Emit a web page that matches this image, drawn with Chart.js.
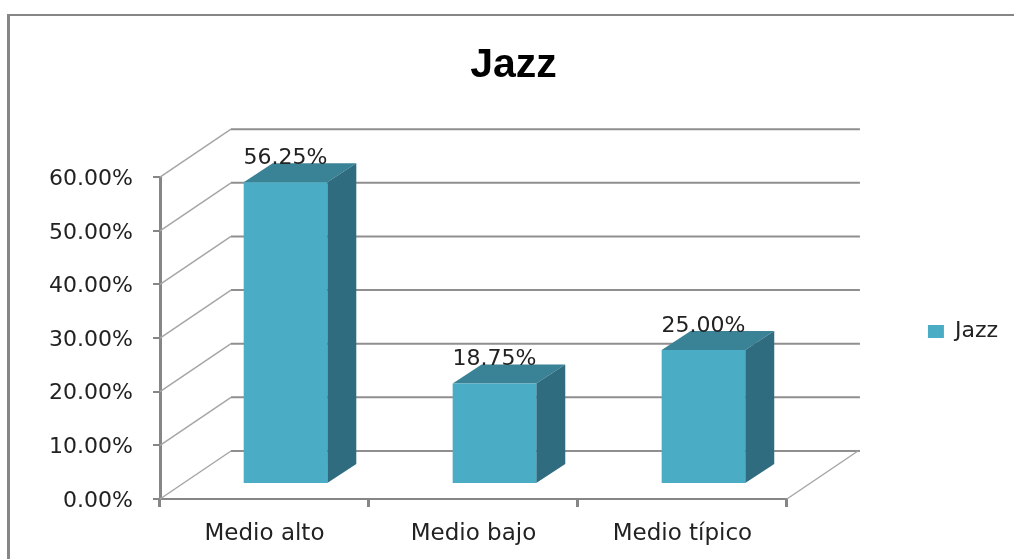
<!DOCTYPE html>
<html><head><meta charset="utf-8">
<style>html,body{margin:0;padding:0;background:#fff;overflow:hidden}canvas{display:block}</style>
<script src="https://cdn.jsdelivr.net/npm/chart.js@4"></script>
</head><body><canvas id="c" width="1014" height="559"></canvas>
<script>
const categories = ['Medio alto', 'Medio bajo', 'Medio típico'];
const seriesName = 'Jazz';
const values = [56.25, 18.75, 25.00];
const yMax = 60;
const yStep = 10;

const FONT = '"DejaVu Sans"';
const TEXT = '#222';
const AXIS = '#868686';
const GRID = '#8f8f8f';
const FRONT = '#4BACC6', TOP = '#3A8296', SIDE = '#306C80';
const wall = {dx: 71, dy: 48};
const bar = {dx: 21, dy: 15, sideX: 29, sideY: 19};

const look3d = {
  id: 'look3d',
  afterLayout(chart) {
    const lg = chart.legend;
    lg.top += 52; lg.bottom += 52;
    lg.left -= 6; lg.right -= 6;
    chart.titleBlock.left += 13;
  },
  beforeDraw(chart) {
    const c = chart.ctx;
    c.save();
    c.fillStyle = '#fff';
    c.fillRect(0, 0, chart.width, chart.height);
    c.strokeStyle = AXIS;
    c.lineWidth = 3;
    c.beginPath(); c.moveTo(8.5, 14); c.lineTo(8.5, chart.height); c.stroke();
    c.lineWidth = 2;
    c.beginPath(); c.moveTo(7, 15); c.lineTo(chart.width, 15); c.stroke();
    c.restore();
  },
  beforeDatasetsDraw(chart) {
    const c = chart.ctx, a = chart.chartArea, y = chart.scales.y;
    c.save();
    y.ticks.forEach(t => {
      const py = y.getPixelForValue(t.value);
      c.strokeStyle = '#a6a6a6';
      c.lineWidth = 1.5;
      c.beginPath(); c.moveTo(a.left, py); c.lineTo(a.left + wall.dx, py - wall.dy); c.stroke();
      c.strokeStyle = GRID;
      c.lineWidth = 2;
      c.beginPath(); c.moveTo(a.left + wall.dx, py - wall.dy); c.lineTo(a.right + wall.dx + 2, py - wall.dy); c.stroke();
    });
    c.strokeStyle = '#a6a6a6';
    c.lineWidth = 1.5;
    c.beginPath(); c.moveTo(a.right, a.bottom); c.lineTo(a.right + wall.dx, a.bottom - wall.dy); c.stroke();
    c.restore();
  },
  beforeDatasetDraw(chart, args) {
    const c = chart.ctx;
    c.save();
    c.translate(bar.dx, -bar.dy);
    chart.getDatasetMeta(args.index).data.forEach(el => {
      const p = el.getProps(['x', 'y', 'base', 'width'], true);
      const l = p.x - p.width / 2, r = p.x + p.width / 2;
      c.fillStyle = TOP;
      c.beginPath();
      c.moveTo(l, p.y); c.lineTo(l + bar.sideX, p.y - bar.sideY);
      c.lineTo(r + bar.sideX, p.y - bar.sideY); c.lineTo(r, p.y);
      c.closePath(); c.fill();
      c.fillStyle = SIDE;
      c.beginPath();
      c.moveTo(r, p.y); c.lineTo(r + bar.sideX, p.y - bar.sideY);
      c.lineTo(r + bar.sideX, p.base - bar.sideY); c.lineTo(r, p.base);
      c.closePath(); c.fill();
    });
  },
  afterDatasetDraw(chart) {
    chart.ctx.restore();
  },
  afterDatasetsDraw(chart) {
    const c = chart.ctx;
    c.save();
    c.font = '22px ' + FONT;
    c.fillStyle = TEXT;
    c.textAlign = 'center';
    c.textBaseline = 'middle';
    chart.getDatasetMeta(0).data.forEach((el, i) => {
      c.fillText(values[i].toFixed(2) + '%', el.x + bar.dx, el.y - bar.dy - 24);
    });
    c.restore();
  }
};

new Chart(document.getElementById('c'), {
  type: 'bar',
  data: {
    labels: categories,
    datasets: [{
      label: seriesName,
      data: values,
      backgroundColor: FRONT,
      borderWidth: 0,
      barPercentage: 0.4,
      categoryPercentage: 1,
      clip: false
    }]
  },
  options: {
    responsive: false,
    animation: false,
    devicePixelRatio: 1,
    layout: {padding: 0},
    plugins: {
      title: {
        display: true,
        text: seriesName,
        color: '#000',
        font: {family: '"Liberation Sans"', size: 41, weight: 'bold'},
        padding: {top: 41, bottom: 87}
      },
      legend: {
        display: true,
        position: 'right',
        labels: {
          boxWidth: 16, boxHeight: 13, padding: 10,
          color: TEXT,
          font: {family: FONT, size: 22}
        }
      },
      tooltip: {enabled: false}
    },
    scales: {
      x: {
        offset: true,
        afterFit(s) { s.height = 60; },
        border: {color: AXIS, width: 2},
        grid: {offset: true, drawOnChartArea: false, color: AXIS, lineWidth: 3, tickLength: 8},
        ticks: {color: TEXT, padding: 13, maxRotation: 0, font: {family: FONT, size: 23}}
      },
      y: {
        min: 0, max: yMax,
        position: 'left',
        afterFit(s) { s.width = 160; },
        border: {color: AXIS, width: 3},
        grid: {drawOnChartArea: false, color: AXIS, lineWidth: 2, tickLength: 7},
        ticks: {
          stepSize: yStep, color: TEXT, padding: 20, labelOffset: 2,
          font: {family: FONT, size: 22},
          callback: v => v.toFixed(2) + '%'
        }
      },
      spacer: {
        type: 'linear', axis: 'y', position: 'right', display: true,
        min: 0, max: 1,
        afterFit(s) { s.width = 137; },
        border: {display: false},
        grid: {display: false},
        ticks: {display: false}
      }
    }
  },
  plugins: [look3d]
});
</script></body></html>
